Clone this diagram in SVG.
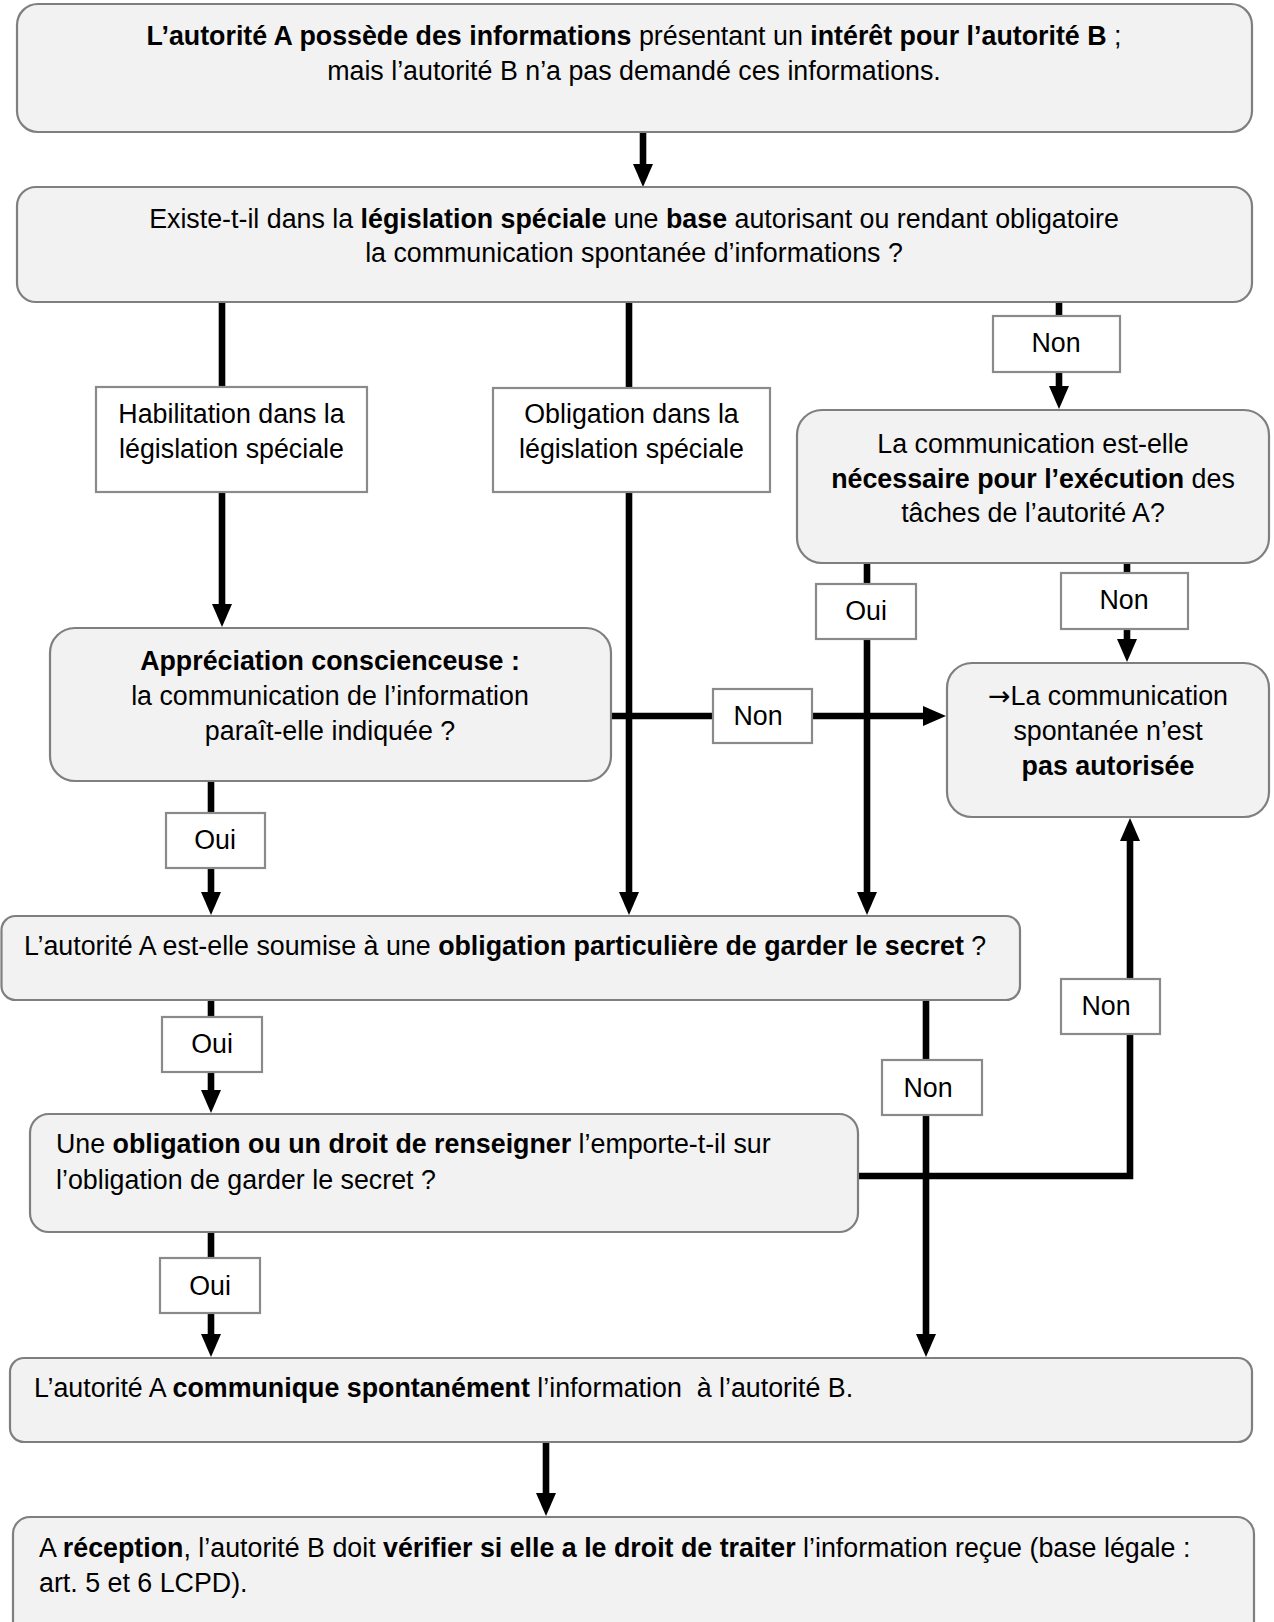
<svg xmlns="http://www.w3.org/2000/svg" width="1274" height="1622" viewBox="0 0 1274 1622">
<style>
.box{fill:#f2f2f2;stroke:#7f7f7f;stroke-width:2.2}
.lbl{fill:#ffffff;stroke:#8a8a8a;stroke-width:2.2}
.t{font-family:"Liberation Sans",Arial,"DejaVu Sans",sans-serif;font-size:26.8px;fill:#000}
.c{text-anchor:middle}
.b{font-weight:bold}
.arw{font-family:"DejaVu Sans",sans-serif}
.ln{fill:none;stroke:#000;stroke-width:6.6;stroke-linejoin:miter}
.ar{marker-end:url(#ah)}
</style>
<defs>
<marker id="ah" viewBox="0 0 23 20" refX="2" refY="10" markerWidth="23" markerHeight="20" orient="auto" markerUnits="userSpaceOnUse">
<path d="M0,0 L23,10 L0,20 Z" fill="#000"/>
</marker>
</defs>
<rect width="1274" height="1622" fill="#fff"/>

<g id="connectors">
<line class="ln ar" x1="643" y1="132" x2="643" y2="166"/>
<line class="ln" x1="222" y1="302" x2="222" y2="388"/>
<line class="ln ar" x1="222" y1="492" x2="222" y2="606"/>
<line class="ln" x1="629" y1="302" x2="629" y2="388"/>
<line class="ln ar" x1="629" y1="492" x2="629" y2="894"/>
<line class="ln ar" x1="1059" y1="302" x2="1059" y2="388"/>
<line class="ln ar" x1="867" y1="563" x2="867" y2="894"/>
<line class="ln ar" x1="1127" y1="563" x2="1127" y2="641"/>
<line class="ln ar" x1="611" y1="716" x2="925" y2="716"/>
<line class="ln ar" x1="211" y1="781" x2="211" y2="894"/>
<line class="ln ar" x1="211" y1="1000" x2="211" y2="1092"/>
<line class="ln ar" x1="926" y1="1000" x2="926" y2="1336"/>
<path class="ln ar" d="M855,1176 H1130 V839"/>
<line class="ln ar" x1="211" y1="1232" x2="211" y2="1336"/>
<line class="ln ar" x1="546" y1="1442" x2="546" y2="1495"/>
</g>

<g id="n-start">
<rect class="box" x="17" y="4" width="1235" height="128" rx="21"/>
<text class="t c" x="634" y="45"><tspan class="b">L’autorité A possède des informations</tspan> présentant un <tspan class="b">intérêt pour l’autorité B</tspan> ;</text>
<text class="t c" x="634" y="80">mais l’autorité B n’a pas demandé ces informations.</text>
</g>

<g id="n-base">
<rect class="box" x="17" y="187" width="1235" height="115" rx="19"/>
<text class="t c" x="634" y="228">Existe-t-il dans la <tspan class="b">législation spéciale</tspan> une <tspan class="b">base</tspan> autorisant ou rendant obligatoire</text>
<text class="t c" x="634" y="262">la communication spontanée d’informations ?</text>
</g>

<g id="n-habilitation">
<rect class="lbl" x="96" y="387" width="271" height="105"/>
<text class="t c" x="231.5" y="423">Habilitation dans la</text>
<text class="t c" x="231.5" y="458">législation spéciale</text>
</g>

<g id="n-obligation">
<rect class="lbl" x="493" y="388" width="277" height="104"/>
<text class="t c" x="631.5" y="423">Obligation dans la</text>
<text class="t c" x="631.5" y="458">législation spéciale</text>
</g>

<g id="l-non1">
<rect class="lbl" x="993" y="316" width="127" height="56"/>
<text class="t c" x="1056" y="352">Non</text>
</g>

<g id="n-necessaire">
<rect class="box" x="797" y="410" width="472" height="153" rx="25"/>
<text class="t c" x="1033" y="453">La communication est-elle</text>
<text class="t c" x="1033" y="488"><tspan class="b">nécessaire pour l’exécution</tspan> des</text>
<text class="t c" x="1033" y="522">tâches de l’autorité A?</text>
</g>

<g id="l-oui1">
<rect class="lbl" x="816" y="584" width="100" height="55"/>
<text class="t c" x="866" y="620">Oui</text>
</g>

<g id="l-non2">
<rect class="lbl" x="1061" y="573" width="127" height="56"/>
<text class="t c" x="1124" y="609">Non</text>
</g>

<g id="n-appreciation">
<rect class="box" x="50" y="628" width="561" height="153" rx="25"/>
<text class="t c b" x="330" y="670">Appréciation conscienceuse :</text>
<text class="t c" x="330" y="705">la communication de l’information</text>
<text class="t c" x="330" y="740">paraît-elle indiquée ?</text>
</g>

<g id="l-non3">
<rect class="lbl" x="713" y="689" width="99" height="54"/>
<text class="t c" x="758" y="725">Non</text>
</g>

<g id="n-refus">
<rect class="box" x="947" y="663" width="322" height="154" rx="25"/>
<text class="t c" x="1108" y="705"><tspan class="arw">→</tspan>La communication</text>
<text class="t c" x="1108" y="740">spontanée n’est</text>
<text class="t c b" x="1108" y="775">pas autorisée</text>
</g>

<g id="l-oui2">
<rect class="lbl" x="166" y="813" width="99" height="55"/>
<text class="t c" x="215" y="849">Oui</text>
</g>

<g id="n-secret">
<rect class="box" x="1.5" y="916" width="1018.5" height="84" rx="14"/>
<text class="t" x="24" y="955">L’autorité A est-elle soumise à une <tspan class="b">obligation particulière de garder le secret</tspan> ?</text>
</g>

<g id="l-oui3">
<rect class="lbl" x="162" y="1017" width="100" height="55"/>
<text class="t c" x="212" y="1053">Oui</text>
</g>

<g id="l-non4">
<rect class="lbl" x="1061" y="979" width="99" height="55"/>
<text class="t c" x="1106" y="1015">Non</text>
</g>

<g id="l-non5">
<rect class="lbl" x="882" y="1060" width="100" height="55"/>
<text class="t c" x="928" y="1097">Non</text>
</g>

<g id="n-renseigner">
<rect class="box" x="30" y="1114" width="828" height="118" rx="19"/>
<text class="t" x="56" y="1153">Une <tspan class="b">obligation ou un droit de renseigner</tspan> l’emporte-t-il sur</text>
<text class="t" x="56" y="1189">l’obligation de garder le secret ?</text>
</g>

<g id="l-oui4">
<rect class="lbl" x="160" y="1258" width="100" height="55"/>
<text class="t c" x="210" y="1295">Oui</text>
</g>

<g id="n-communique">
<rect class="box" x="10" y="1358" width="1242" height="84" rx="14"/>
<text class="t" x="34" y="1397" xml:space="preserve">L’autorité A <tspan class="b">communique spontanément</tspan> l’information  à l’autorité B.</text>
</g>

<g id="n-reception">
<rect class="box" x="13" y="1517" width="1241" height="130" rx="17"/>
<text class="t" x="39" y="1557">A <tspan class="b">réception</tspan>, l’autorité B doit <tspan class="b">vérifier si elle a le droit de traiter</tspan> l’information reçue (base légale :</text>
<text class="t" x="39" y="1592">art. 5 et 6 LCPD).</text>
</g>
</svg>
